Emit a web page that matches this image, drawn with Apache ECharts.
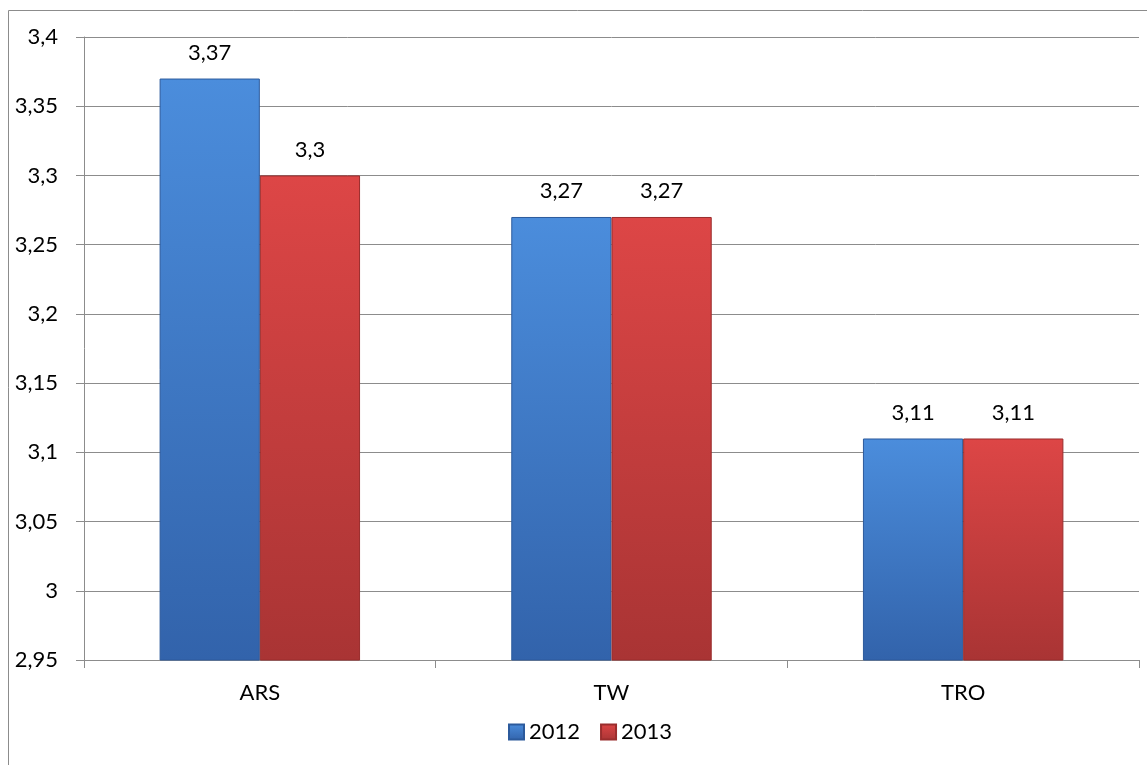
<!DOCTYPE html>
<html><head><meta charset="utf-8">
<script src="https://cdn.jsdelivr.net/npm/echarts@6/dist/echarts.min.js"></script>
<style>html,body{margin:0;padding:0;background:#fff}#c{width:1147px;height:765px}</style>
</head><body><div id="c"></div>
<script>
const categories = ['ARS', 'TW', 'TRO'];
const seriesNames = ['2012', '2013'];
const values2012 = [3.37, 3.27, 3.11];
const values2013 = [3.30, 3.27, 3.11];

const fmt = v => String(v).replace('.', ',');
const FONT = 'Lato';
const FS = 22;
const blueGrad = new echarts.graphic.LinearGradient(0, 0, 0, 1, [
  {offset: 0, color: '#4b8ddc'}, {offset: 1, color: '#3263ab'}]);
const redGrad = new echarts.graphic.LinearGradient(0, 0, 0, 1, [
  {offset: 0, color: '#dd4646'}, {offset: 1, color: '#a93434'}]);

const chart = echarts.init(document.getElementById('c'));
chart.setOption({
  animation: false,
  textStyle: {fontFamily: FONT},
  graphic: [{
    type: 'polyline', silent: true,
    shape: {points: [[8.5, 765], [8.5, 10.5], [1147, 10.5]]},
    style: {stroke: '#8c8c8c', lineWidth: 1, fill: null}
  }],
  grid: {left: 84, right: 8, top: 37, bottom: 105},
  legend: {
    data: seriesNames, bottom: 17, left: 503, itemWidth: 15, itemHeight: 15, itemGap: 20,
    icon: 'rect',
    textStyle: {fontFamily: FONT, fontSize: FS, color: '#000'}
  },
  xAxis: {
    type: 'category', data: categories,
    axisLine: {lineStyle: {color: '#8c8c8c'}},
    axisTick: {show: true, length: 8, lineStyle: {color: '#8c8c8c'}},
    axisLabel: {fontFamily: FONT, fontSize: FS, color: '#000', margin: 22}
  },
  yAxis: {
    type: 'value', min: 2.95, max: 3.4, interval: 0.05,
    axisLine: {show: true, lineStyle: {color: '#8c8c8c'}},
    axisTick: {show: true, length: 8, lineStyle: {color: '#8c8c8c'}},
    splitLine: {lineStyle: {color: '#8c8c8c'}},
    axisLabel: {fontFamily: FONT, fontSize: FS, color: '#000', margin: 26,
      formatter: v => fmt(Math.round(v * 100) / 100)}
  },
  series: [
    {name: seriesNames[0], type: 'bar', data: values2012, barGap: '0%', barCategoryGap: '43%',
     itemStyle: {color: blueGrad, borderColor: '#2c5a9c', borderWidth: 1},
     label: {show: true, position: 'top', distance: 15, fontFamily: FONT, fontSize: FS, color: '#000',
       formatter: p => fmt(p.value)}},
    {name: seriesNames[1], type: 'bar', data: values2013,
     itemStyle: {color: redGrad, borderColor: '#9a2d2d', borderWidth: 1},
     label: {show: true, position: 'top', distance: 15, fontFamily: FONT, fontSize: FS, color: '#000',
       formatter: p => fmt(p.value)}}
  ]
});
</script></body></html>
